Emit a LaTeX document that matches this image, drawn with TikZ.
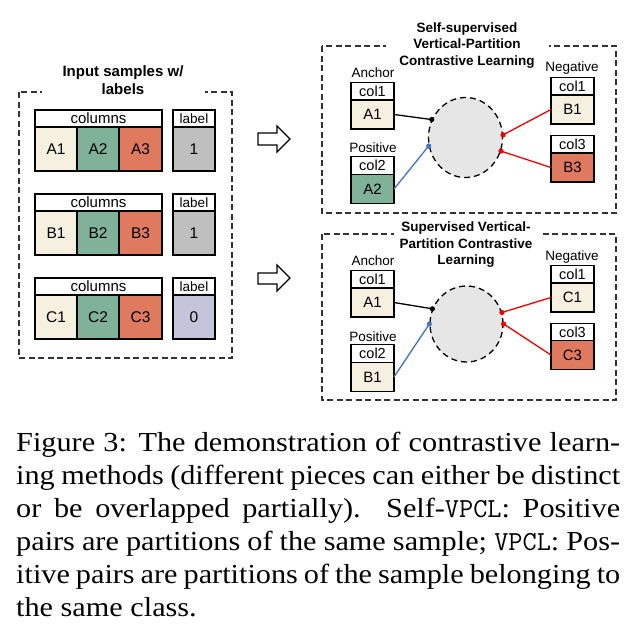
\documentclass[tikz,border=0pt]{standalone}
\usepackage{fontspec}
\setmainfont{Liberation Sans}
\newfontfamily\capfont[FakeStretch=1.1]{Liberation Serif}
\usetikzlibrary{shapes.geometric}
\definecolor{cbeige}{HTML}{F5F0E0}
\definecolor{cgreen}{HTML}{7FB299}
\definecolor{cred}{HTML}{E07A5F}
\definecolor{cgray}{HTML}{BFBFBF}
\definecolor{clav}{HTML}{C4C4DA}
\definecolor{cblue}{HTML}{4472C4}
\definecolor{lred}{HTML}{F00000}
\definecolor{cfill}{HTML}{E6E6E6}
\definecolor{dgray}{HTML}{333333}
\tikzset{
  cbox/.style={draw=black, line width=1.4pt, inner sep=0pt, outer sep=0pt},
  lhdr/.style={cbox, fill=white, minimum height=17pt, font=\fontsize{15}{18}\selectfont},
  lcell/.style={cbox, minimum height=44pt, font=\fontsize{15.5}{18}\selectfont},
  rhdr/.style={cbox, fill=white, minimum width=43pt, minimum height=17.5pt, font=\fontsize{14.5}{17}\selectfont},
  rcell/.style={cbox, minimum width=43pt, minimum height=29pt, font=\fontsize{15}{18}\selectfont},
  rlab/.style={inner sep=0pt, font=\fontsize{13.5}{16}\selectfont},
  panel/.style={draw=dgray, line width=1.1pt, dash pattern=on 6pt off 3.5pt},
  title/.style={fill=white, align=center, inner sep=1pt, font=\bfseries\fontsize{13.5}{16.5}\selectfont},
  hub/.style={ellipse, draw=black, line width=1.3pt, dash pattern=on 6pt off 4pt, fill=cfill, inner sep=0pt},
  conn/.style={line width=1.3pt},
  barrow/.style={draw=black, line width=1.3pt, fill=white, line join=miter},
  capline/.style={anchor=base west, inner sep=0pt, font=\capfont\fontsize{27.5}{33}\selectfont},
}
\begin{document}
\begin{tikzpicture}[x=1pt, y=-1pt]
\useasboundingbox (0,0) rectangle (630,627);

% ---------- left panel ----------
\draw[panel] (19,92) rectangle (232,358);
\node[title, font=\bfseries\fontsize{15}{18}\selectfont, minimum width=163pt] (tin) at (123,80) {Input samples w/\\labels};

\foreach \r/\p/\lab/\lc in {0/A/1/cgray, 1/B/1/cgray, 2/C/0/clav} {
  \pgfmathsetmacro{\yz}{110+84*\r}
  \node[lhdr, minimum width=127pt] (col\p) at (98.5,\yz+8.5) {columns};
  \node[lcell, minimum width=42pt, fill=cbeige] (\p1) at (56,\yz+39) {\p1};
  \node[lcell, minimum width=42pt, fill=cgreen] (\p2) at (98,\yz+39) {\p2};
  \node[lcell, minimum width=43pt, fill=cred] (\p3) at (140.5,\yz+39) {\p3};
  \node[lhdr, minimum width=42pt, font=\fontsize{13.5}{16}\selectfont] (lab\p) at (194,\yz+8.5) {label};
  \node[lcell, minimum width=42pt, fill=\lc] (val\p) at (194,\yz+39) {\lab};
}

% ---------- block arrows ----------
\draw[barrow] (258,133) -- (277,133) -- (277,126) -- (290,139) -- (277,152) -- (277,145) -- (258,145) -- cycle;
\draw[barrow] (258,273) -- (277,273) -- (277,265) -- (290,278) -- (277,291) -- (277,284) -- (258,284) -- cycle;

% ---------- top right panel ----------
\draw[panel] (322,46) rectangle (616,213);
\node[title, minimum width=163pt] (t1) at (467,45.5) {Self-supervised\\Vertical-Partition\\Contrastive Learning};
\node[rlab] (anc1) at (373,73) {Anchor};
\node[rhdr] (h1a) at (372.5,91.5) {col1};
\node[rcell, fill=cbeige] (ta1) at (372.5,114.5) {A1};
\node[rlab] (pos1) at (373,148) {Positive};
\node[rhdr] (h1p) at (372.5,165.5) {col2};
\node[rcell, fill=cgreen] (ta2) at (372.5,189) {A2};
\node[rlab] (neg1) at (572,68) {Negative};
\node[rhdr] (h1n) at (572.5,86.5) {col1};
\node[rcell, fill=cbeige] (tb1) at (572.5,109.5) {B1};
\node[rhdr] (h1m) at (572.5,144) {col3};
\node[rcell, fill=cred] (tb3) at (572.5,167.5) {B3};
\node[hub, minimum width=74pt, minimum height=80pt] (e1) at (465.5,137.5) {};
\draw[conn, black] (ta1.east) -- (e1.152);
\fill[black] (e1.152) circle (2.6);
\draw[conn, cblue] (ta2.east) -- (e1.193);
\fill[cblue] (e1.193) circle (2.6);
\draw[conn, lred] (tb1.west) -- (e1.4);
\fill[lred] (e1.4) circle (2.6);
\draw[conn, lred] (tb3.west) -- (e1.-21);
\fill[lred] (e1.-21) circle (2.6);

% ---------- bottom right panel ----------
\draw[panel] (322,234) rectangle (616,400);
\node[title, minimum width=145pt] (t2) at (466,245) {Supervised Vertical-\\Partition Contrastive\\Learning};
\node[rlab] (anc2) at (373,261) {Anchor};
\node[rhdr] (h2a) at (372.5,279) {col1};
\node[rcell, fill=cbeige] (ba1) at (372.5,302.5) {A1};
\node[rlab] (pos2) at (373,337) {Positive};
\node[rhdr] (h2p) at (372.5,353.5) {col2};
\node[rcell, fill=cbeige] (bb1) at (372.5,377) {B1};
\node[rlab] (neg2) at (572,257) {Negative};
\node[rhdr] (h2n) at (572.5,274) {col1};
\node[rcell, fill=cbeige] (bc1) at (572.5,297.5) {C1};
\node[rhdr] (h2m) at (572.5,332) {col3};
\node[rcell, fill=cred] (bc3) at (572.5,355) {C3};
\node[hub, minimum width=73pt, minimum height=76pt] (e2) at (466.5,324) {};
\draw[conn, black] (ba1.east) -- (e2.156);
\fill[black] (e2.156) circle (2.6);
\draw[conn, cblue] (bb1.east) -- (e2.180);
\fill[cblue] (e2.180) circle (2.6);
\draw[conn, lred] (bc1.west) -- (e2.18);
\fill[lred] (e2.18) circle (2.6);
\draw[conn, lred] (bc3.west) -- (e2.0);
\fill[lred] (e2.0) circle (2.6);

% ---------- caption ----------
\node[capline] (cap1) at (16,451) {\makebox[604pt][s]{Figure 3: The demonstration of contrastive learn-}};
\node[capline] (cap2) at (16,484) {\makebox[604pt][s]{ing methods (different pieces can either be distinct}};
\node[capline] (cap3) at (16,517) {\makebox[604pt][s]{or be overlapped partially).  Self-\texttt{VPCL}: Positive}};
\node[capline] (cap4) at (16,550) {\makebox[604pt][s]{pairs are partitions of the same sample; \texttt{VPCL}: Pos-}};
\node[capline] (cap5) at (16,583) {\makebox[604pt][s]{itive pairs are partitions of the sample belonging to}};
\node[capline] (cap6) at (16,616) {the same class.};
\end{tikzpicture}
\end{document}
